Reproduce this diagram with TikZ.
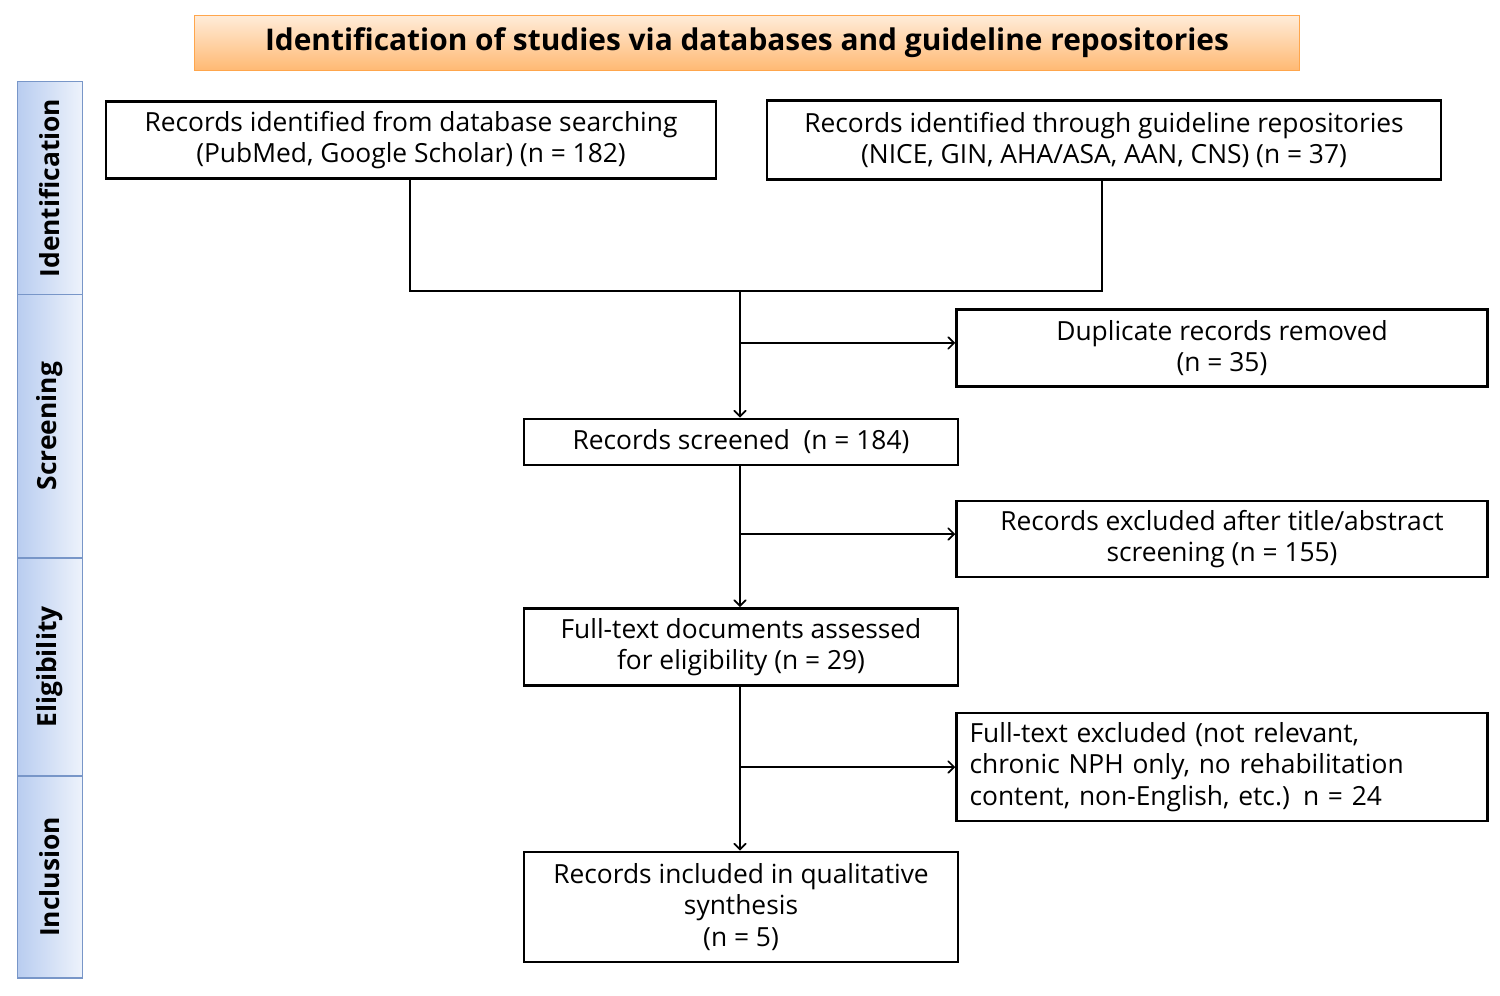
\documentclass[tikz,border=0pt]{standalone}
\usepackage{fontspec}
\setmainfont{Open Sans}
\usetikzlibrary{arrows}
\definecolor{stageblue}{RGB}{185,205,240}
\definecolor{stageline}{RGB}{120,150,200}
\begin{document}
\begin{tikzpicture}
                        [
                            x=0.02cm, y=-0.02cm,
                            box/.style = {draw, shape=rectangle, line width=1.5pt, inner sep=4pt, align=center, font=\fontsize{15}{18}\selectfont},
                            stage/.style = {draw=stageline, line width=0.8pt, left color=stageblue, right color=stageblue!25, shape=rectangle, minimum width=1.3cm, inner sep=0pt},
                            stagetext/.style = {rotate=90, font=\fontsize{15}{18}\selectfont\bfseries},
                            arr/.style = {-angle 90, line width=1pt},
                        ]
                        \useasboundingbox (0,0) rectangle (1500,996);

                        \node[draw=orange!70, line width=0.8pt, top color=orange!15, bottom color=orange!55, minimum width=22.1cm, minimum height=1.1cm, font=\fontsize{17}{20}\selectfont\bfseries] (title) at (747,43) {Identification\ of studies via databases and guideline repositories};

                        \node[stage, minimum height=4.26cm] (s1) at (50,188) {};
                        \node[stage, minimum height=5.26cm] (s2) at (50,426) {};
                        \node[stage, minimum height=4.36cm] (s3) at (50,667) {};
                        \node[stage, minimum height=4.04cm] (s4) at (50,877) {};
                        \node[stagetext] (l1) at (s1) {Identification};
                        \node[stagetext] (l2) at (s2) {Screening};
                        \node[stagetext] (l3) at (s3) {Eligibility};
                        \node[stagetext] (l4) at (s4) {Inclusion};

                        \node[box, minimum width=12.2cm, minimum height=1.54cm] (dbase) at (411,140) {Records identified from database searching\\(PubMed, Google Scholar) (n = 182)};
                        \node[box, minimum width=13.48cm, minimum height=1.58cm] (guide) at (1104,140) {Records identified through guideline repositories\\(NICE, GIN, AHA/ASA, AAN, CNS) (n = 37)};
                        \node[box, minimum width=10.62cm, minimum height=1.54cm] (dup) at (1222,348) {Duplicate records removed\\(n = 35)};
                        \node[box, minimum width=8.68cm, minimum height=0.92cm] (screen) at (741,442) {Records screened\ \ (n = 184)};
                        \node[box, minimum width=10.62cm, minimum height=1.52cm] (excl) at (1222,539) {Records excluded after title/abstract\\screening (n = 155)};
                        \node[box, minimum width=8.68cm, minimum height=1.54cm] (full) at (741,647) {Full-text documents assessed\\for eligibility (n = 29)};
                        \node[box, minimum width=10.62cm, minimum height=2.16cm, text width=10.1cm, align=left] (excl2) at (1222,767) {Full-text excluded (not relevant,\\chronic NPH only, no rehabilitation\\content, non-English, etc.) n = 24};
                        \node[box, minimum width=8.68cm, minimum height=2.2cm] (incl) at (741,907) {Records included in qualitative\\synthesis\\(n = 5)};

                        \coordinate (jl) at (410,291);
                        \coordinate (jr) at (1102,291);
                        \coordinate (jm) at (740,291);
                        \draw [line width=1.2pt] (dbase.south -| jl) -- (jl) -- (jr) -- (guide.south -| jr);
                        \draw [arr] (jm) -- (screen.north -| jm);
                        \draw [arr] (740,343) -- (dup.west |- 0,343);
                        \draw [arr] (screen.south -| jm) -- (full.north -| jm);
                        \draw [arr] (740,534) -- (excl.west |- 0,534);
                        \draw [arr] (full.south -| jm) -- (incl.north -| jm);
                        \draw [arr] (740,767) -- (excl2.west);

                    \end{tikzpicture}
\end{document}
